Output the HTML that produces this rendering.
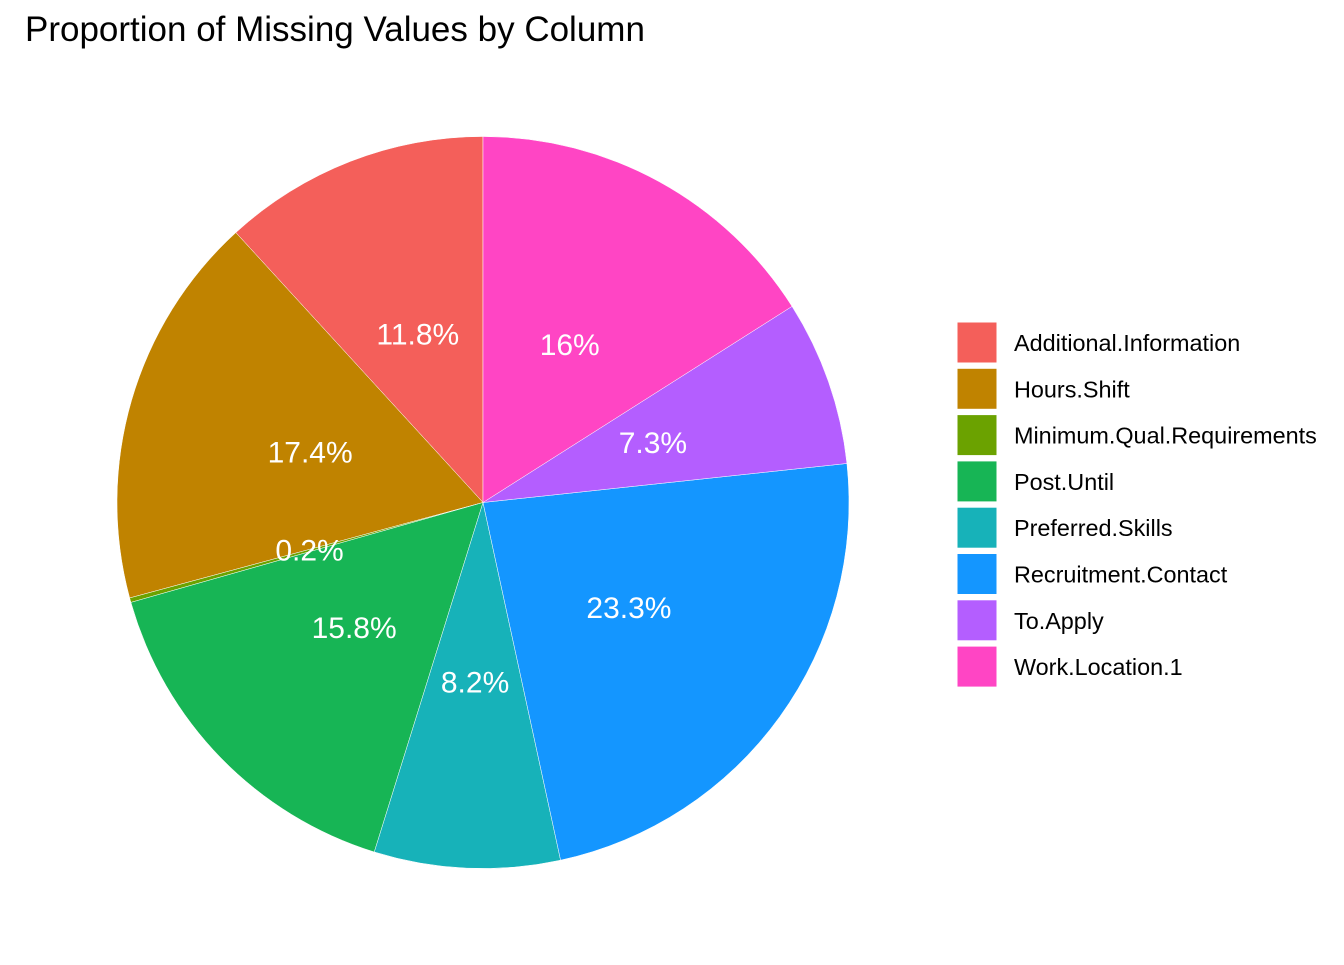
<!DOCTYPE html>
<html><head><meta charset="utf-8"><style>
body{margin:0;background:#fff;width:1344px;height:960px;overflow:hidden;font-family:"Liberation Sans",Arial,sans-serif}
</style></head><body>
<svg id="chart" width="1344" height="960">
<text x="25" y="41" font-size="35" fill="#000">Proportion of Missing Values by Column</text>
<g id="slices"></g><g id="labels"></g><g id="legend"></g>
</svg>
<script>
const categories=["Additional.Information","Hours.Shift","Minimum.Qual.Requirements","Post.Until","Preferred.Skills","Recruitment.Contact","To.Apply","Work.Location.1"];
const values=[11.8,17.4,0.2,15.8,8.2,23.3,7.3,16];
const labelsTxt=["11.8%","17.4%","0.2%","15.8%","8.2%","23.3%","7.3%","16%"];
const colors=["#F45F5A","#C08300","#6BA200","#17B555","#17B2B9","#1496FF","#B45EFF","#FF45C4"];
const NS="http://www.w3.org/2000/svg";
const cx=483,cy=502.5,R=366,LR=180;
const total=values.reduce((a,b)=>a+b,0);
function pt(frac,r){const a=frac*2*Math.PI;return [cx-r*Math.sin(a),cy-r*Math.cos(a)];}
let acc=0;
const gs=document.getElementById('slices'),gl=document.getElementById('labels'),gg=document.getElementById('legend');
values.forEach((v,i)=>{
 const f0=acc/total,f1=(acc+v)/total;acc+=v;
 const p0=pt(f0,R),p1=pt(f1,R);const large=(f1-f0)>0.5?1:0;
 const p=document.createElementNS(NS,'path');
 p.setAttribute('d',`M${cx},${cy}L${p0[0]},${p0[1]}A${R},${R} 0 ${large} 0 ${p1[0]},${p1[1]}Z`);
 p.setAttribute('fill',colors[i]);p.setAttribute('stroke','#fff');p.setAttribute('stroke-width','0.5');
 
 
 gs.appendChild(p);
 const lp=pt((f0+f1)/2,LR);
 const t=document.createElementNS(NS,'text');
 t.setAttribute('x',lp[0]);t.setAttribute('y',lp[1]+10);t.setAttribute('text-anchor','middle');
 t.setAttribute('font-size','30');t.setAttribute('fill','#fff');t.textContent=labelsTxt[i];
 
 
 gl.appendChild(t);
 const y=321+i*46.3;
 const r=document.createElementNS(NS,'rect');
 r.setAttribute('x',956);r.setAttribute('y',y);r.setAttribute('width',42);r.setAttribute('height',43);r.setAttribute('fill',colors[i]);r.setAttribute('stroke','#fff');r.setAttribute('stroke-width','3');
 
 
 gg.appendChild(r);
 const lt=document.createElementNS(NS,'text');
 lt.setAttribute('x',1014);lt.setAttribute('y',y+30);lt.setAttribute('font-size','23.4');lt.setAttribute('fill','#000');lt.textContent=categories[i];
 
 
 gg.appendChild(lt);
});
</script>
</body></html>
